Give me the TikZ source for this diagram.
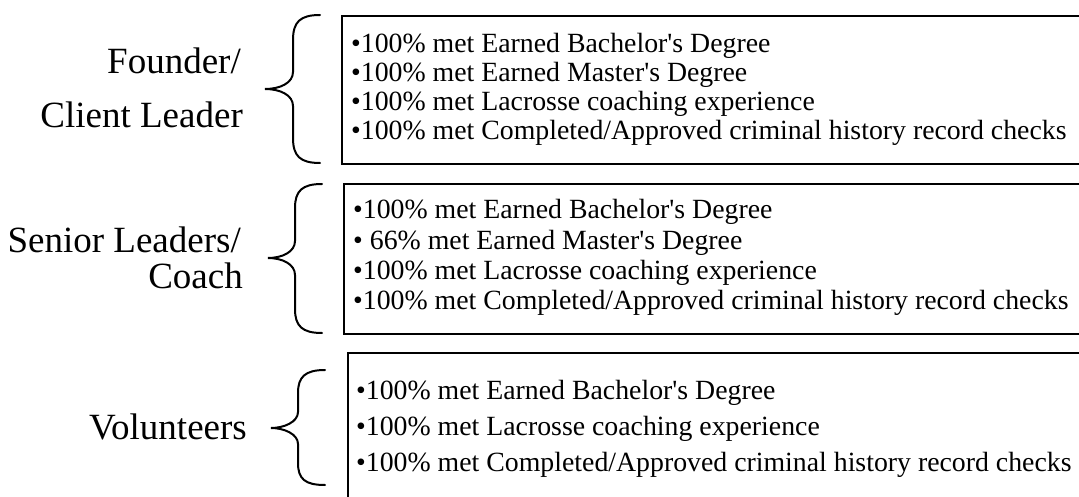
\documentclass[tikz,border=0pt]{standalone}
\usepackage{fontspec}
\setmainfont{Liberation Serif}
\newcommand{\apos}{\textquotesingle}
\begin{document}
\begin{tikzpicture}[x=1pt,y=-1pt,
  item/.style={anchor=base west, inner sep=0pt, font=\fontsize{27.8}{33}\selectfont},
  grouplabel/.style={anchor=base east, inner sep=0pt, font=\fontsize{37}{44}\selectfont},
  frame/.style={draw, line width=2.4pt, anchor=north west, inner sep=0pt, minimum width=780pt},
  brace/.style={draw, line width=2pt, line cap=round}]
\useasboundingbox (0,0) rectangle (1079,497);
\clip (0,0) rectangle (1079,497);

% requirement frames (open to the right and bottom)
\node[frame, minimum height=148pt] (box1) at (341,15) {};
\node[frame, minimum height=150pt] (box2) at (343,183) {};
\node[frame, minimum height=180pt] (box3) at (347,352) {};

% group labels
\node[grouplabel] (l1a) at (241,74) {Founder/};
\node[grouplabel] (l1b) at (243,128) {Client Leader};
\node[grouplabel] (l2a) at (241,253) {Senior Leaders/};
\node[grouplabel] (l2b) at (243,288) {Coach};
\node[grouplabel] (l3) at (247,439) {Volunteers};

% braces
\draw[brace] (320,15) .. controls (300,15) and (293,22) .. (293,40) -- (293,72)
  .. controls (293,83) and (280,89) .. (265,89)
  .. controls (280,89) and (293,95) .. (293,106) -- (293,138)
  .. controls (293,156) and (300,163) .. (320,163);
\draw[brace] (322,184) .. controls (302,184) and (295,191) .. (295,208) -- (295,241)
  .. controls (295,252) and (282,258) .. (268,258)
  .. controls (282,258) and (295,264) .. (295,275) -- (295,309)
  .. controls (295,326) and (302,333) .. (322,333);
\draw[brace] (325,370) .. controls (305,370) and (298,377) .. (298,393) -- (298,412)
  .. controls (298,422) and (284,428) .. (271,428)
  .. controls (284,428) and (298,434) .. (298,444) -- (298,463)
  .. controls (298,479) and (305,485) .. (325,485);

% items of the first group
\node[item] (a1) at (351,53) {•100\% met Earned Bachelor\apos s Degree};
\node[item] (a2) at (351,82) {•100\% met Earned Master\apos s Degree};
\node[item] (a3) at (351,111) {•100\% met Lacrosse coaching experience};
\node[item] (a4) at (351,140) {•100\% met Completed/Approved criminal history record checks};

% items of the second group
\node[item] (b1) at (353,219) {•100\% met Earned Bachelor\apos s Degree};
\node[item] (b2) at (353,250) {• 66\% met Earned Master\apos s Degree};
\node[item] (b3) at (353,279) {•100\% met Lacrosse coaching experience};
\node[item] (b4) at (353,309) {•100\% met Completed/Approved criminal history record checks};

% items of the third group
\node[item] (c1) at (356,399) {•100\% met Earned Bachelor\apos s Degree};
\node[item] (c2) at (356,435) {•100\% met Lacrosse coaching experience};
\node[item] (c3) at (356,471) {•100\% met Completed/Approved criminal history record checks};
\end{tikzpicture}
\end{document}
